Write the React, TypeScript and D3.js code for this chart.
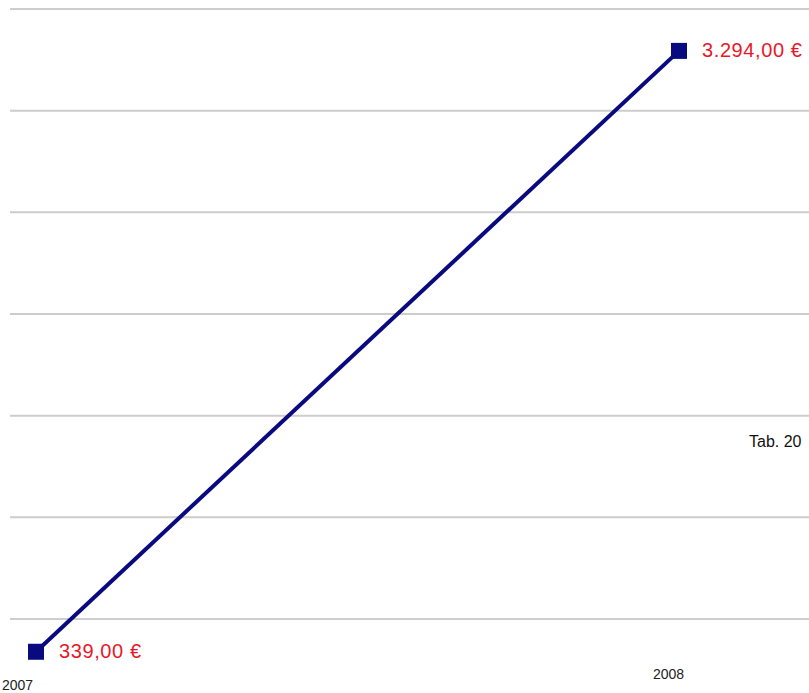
import React from "react";
import * as d3 from "d3";

const years = ["2007", "2008"];
const values = [339, 3294];
const valueLabels = ["339,00 €", "3.294,00 €"];
const gridTicks = [500, 1000, 1500, 2000, 2500, 3000, 3500];
const tableLabel = "Tab. 20";

const W = 809;
const H = 693;

export default function App() {
  const x = d3.scalePoint<string>().domain(years).range([36, 679]);
  const y = d3.scaleLinear().domain([0, 3500]).range([720.7, 9]);
  const line = d3
    .line<number>()
    .x((_, i) => x(years[i]) as number)
    .y((d) => y(d));

  const yearOffsets = [
    { dx: -34, dy: 38 },
    { dx: -26, dy: 27 },
  ];

  return (
    <div style={{ position: "fixed", left: 0, top: 0 }}>
      <svg width={W} height={H} style={{ display: "block", background: "#fff" }}>
        {gridTicks.map((t) => (
          <line
            key={t}
            x1={10}
            x2={W}
            y1={y(t)}
            y2={y(t)}
            stroke="#cdcdcd"
            strokeWidth={2}
          />
        ))}
        <path d={line(values) || ""} fill="none" stroke="#0a0a80" strokeWidth={4} />
        {values.map((v, i) => (
          <g key={i}>
            <rect
              x={(x(years[i]) as number) - 8}
              y={y(v) - 8}
              width={16}
              height={16}
              fill="#0a0a80"
            />
            <text
              x={(x(years[i]) as number) + 23}
              y={y(v) + 6}
              fill="#e8182a"
              fontFamily="Liberation Sans, Arial, sans-serif"
              fontSize={20}
              letterSpacing={0.6}
            >
              {valueLabels[i]}
            </text>
            <text
              x={(x(years[i]) as number) + yearOffsets[i].dx}
              y={y(values[0]) + yearOffsets[i].dy}
              fill="#222"
              fontFamily="Liberation Sans, Arial, sans-serif"
              fontSize={14}
            >
              {years[i]}
            </text>
          </g>
        ))}
        <text
          x={749}
          y={447}
          fill="#111"
          fontFamily="Liberation Sans, Arial, sans-serif"
          fontSize={16}
        >
          {tableLabel}
        </text>
      </svg>
    </div>
  );
}
